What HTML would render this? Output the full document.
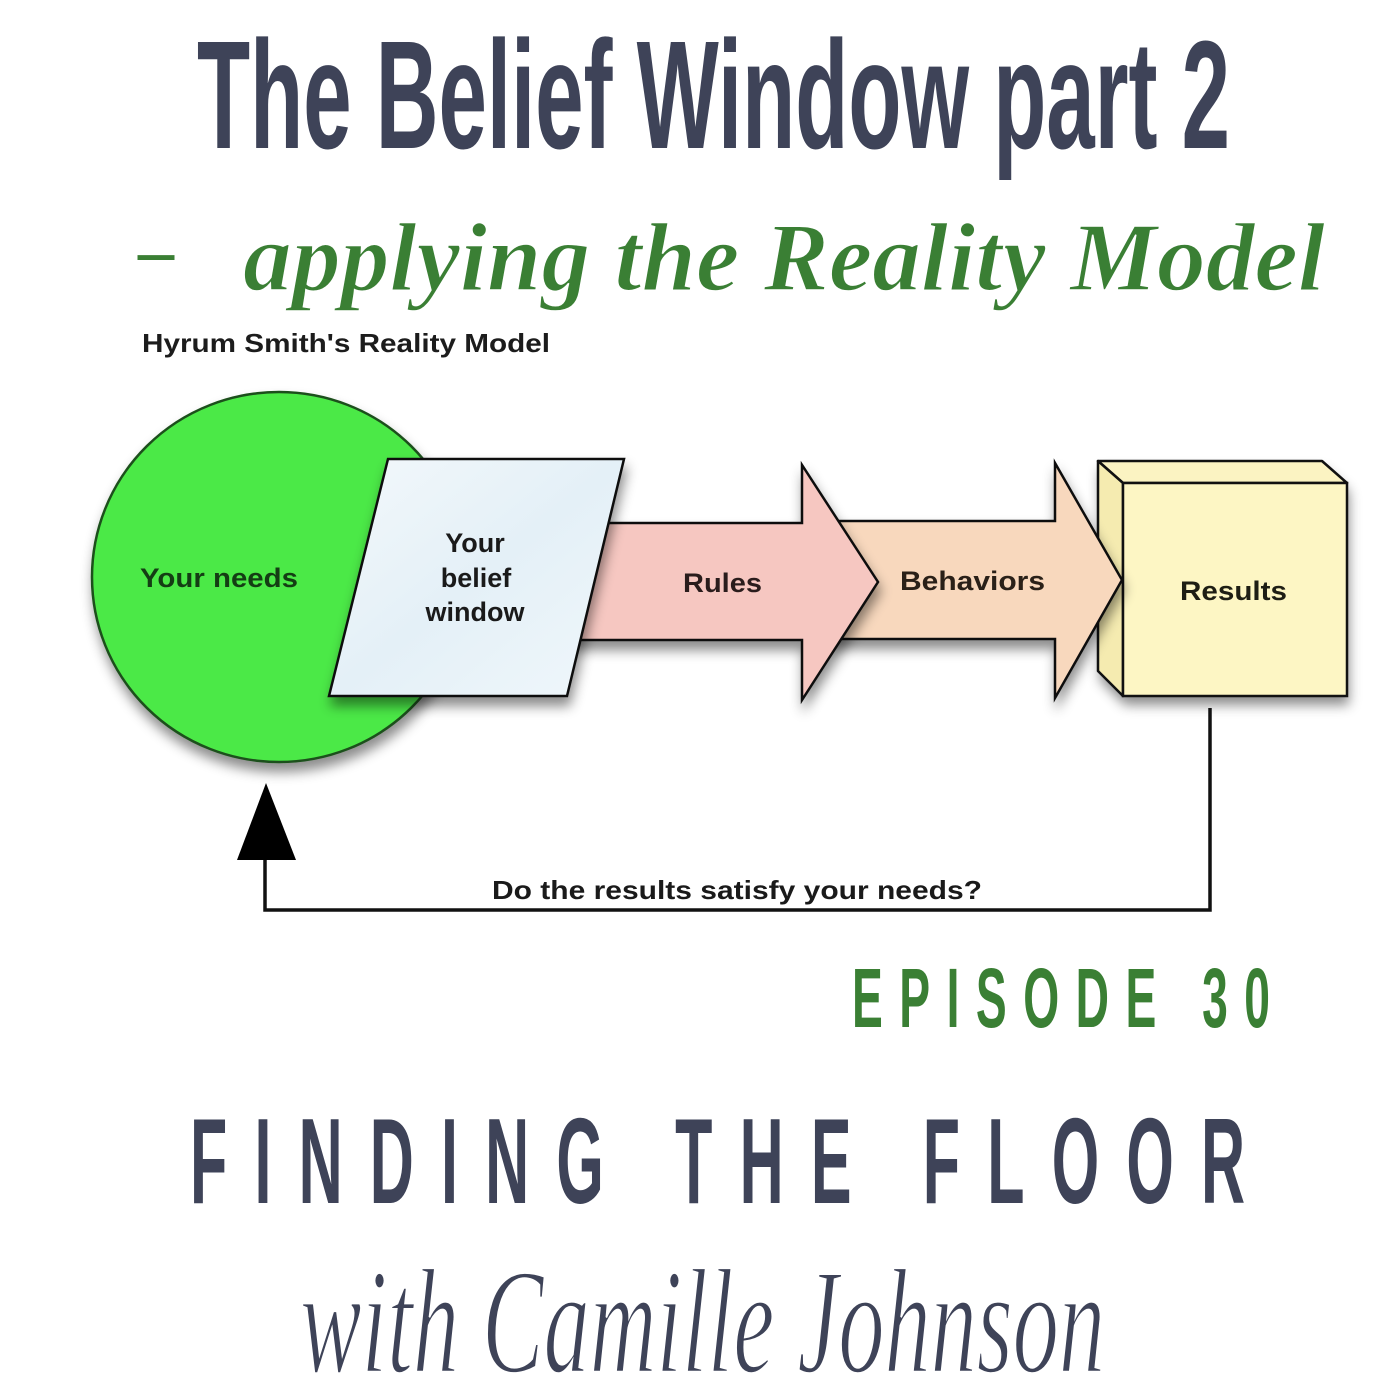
<!DOCTYPE html>
<html>
<head>
<meta charset="utf-8">
<style>
html,body{margin:0;padding:0;background:#fff;}
svg{display:block;}
</style>
</head>
<body>
<svg width="1400" height="1400" viewBox="0 0 1400 1400" xmlns="http://www.w3.org/2000/svg">
  <defs>
    <filter id="sh" x="-20%" y="-20%" width="140%" height="150%">
      <feDropShadow dx="2" dy="9" stdDeviation="6" flood-color="#000" flood-opacity="0.45"/>
    </filter>
    <linearGradient id="pg" x1="0" y1="0" x2="1" y2="1">
      <stop offset="0" stop-color="#f3f8fb"/>
      <stop offset="0.5" stop-color="#e4f0f7"/>
      <stop offset="1" stop-color="#f0f7fb"/>
    </linearGradient>
  </defs>
  <rect width="1400" height="1400" fill="#fff"/>

  <!-- Title -->
  <text x="197" y="148" font-family="'Liberation Sans Narrow','Liberation Sans',sans-serif" font-weight="bold" font-size="154" fill="#3e4358" textLength="1033" lengthAdjust="spacingAndGlyphs">The Belief Window part 2</text>

  <!-- Subtitle script -->
  <text x="138" y="274" font-family="'Liberation Serif',serif" font-weight="bold" font-size="70" fill="#3a7f34" textLength="36" lengthAdjust="spacingAndGlyphs">–</text>
  <text x="243" y="290" font-family="'Liberation Serif',serif" font-style="italic" font-weight="bold" font-size="98" fill="#3a7f34" stroke="#fff" stroke-width="1.5" textLength="1082" lengthAdjust="spacingAndGlyphs">applying the Reality Model</text>

  <!-- Diagram heading -->
  <text x="142" y="352" font-family="'Liberation Sans',sans-serif" font-weight="bold" font-size="26" fill="#1c1c1c" textLength="408" lengthAdjust="spacingAndGlyphs">Hyrum Smith's Reality Model</text>

  <!-- Results box -->
  <g filter="url(#sh)">
    <polygon points="1098,461 1322,461 1347,483 1347,696 1123,696 1098,671" fill="#fbf2bb"/>
  </g>
  <polygon points="1098,461 1322,461 1347,483 1123,483" fill="#fbf3c2" stroke="#111" stroke-width="2.5" stroke-linejoin="round"/>
  <polygon points="1098,461 1123,483 1123,696 1098,671" fill="#f5ebb0" stroke="#111" stroke-width="2.5" stroke-linejoin="round"/>
  <rect x="1123" y="483" width="224" height="213" fill="#fdf6c4" stroke="#111" stroke-width="2.5"/>

  <!-- Behaviors arrow -->
  <polygon points="830,521 1055,521 1055,463 1122,580 1055,698 1055,639 830,639" fill="#f8d8bd" stroke="#111" stroke-width="2.5" stroke-linejoin="miter" filter="url(#sh)"/>

  <!-- Rules arrow -->
  <polygon points="560,523 802,523 802,465 878,582 802,700 802,640 560,640" fill="#f6c7c1" stroke="#111" stroke-width="2.5" stroke-linejoin="miter" filter="url(#sh)"/>

  <!-- Needs circle -->
  <ellipse cx="279" cy="577" rx="187" ry="185" fill="#4ce946" stroke="#1b4f1a" stroke-width="2.5" filter="url(#sh)"/>

  <!-- Belief window parallelogram -->
  <polygon points="388,459 624,459 567,696 329,696" fill="url(#pg)" stroke="#111" stroke-width="2.5" stroke-linejoin="miter" filter="url(#sh)"/>

  <!-- Labels -->
  <g font-family="'Liberation Sans',sans-serif" font-weight="bold" font-size="27">
    <text x="140" y="587" fill="#143d14" textLength="158" lengthAdjust="spacingAndGlyphs">Your needs</text>
    <text x="475" y="552" fill="#1a1a1a" text-anchor="middle">Your</text>
    <text x="476" y="587" fill="#1a1a1a" text-anchor="middle">belief</text>
    <text x="475" y="621" fill="#1a1a1a" text-anchor="middle">window</text>
    <text x="683" y="592" fill="#2a1c1c" textLength="79" lengthAdjust="spacingAndGlyphs">Rules</text>
    <text x="900" y="590" fill="#2a2018" textLength="145" lengthAdjust="spacingAndGlyphs">Behaviors</text>
    <text x="1180" y="600" fill="#1e1e14" textLength="107" lengthAdjust="spacingAndGlyphs">Results</text>
  </g>

  <!-- Feedback loop -->
  <polyline points="1210,708 1210,910 265,910 265,858" fill="none" stroke="#111" stroke-width="3.5" stroke-linejoin="miter"/>
  <polygon points="237,860 296,860 266,783" fill="#000"/>
  <text x="492" y="899" font-family="'Liberation Sans',sans-serif" font-weight="bold" font-size="26" fill="#1a1a1a" textLength="490" lengthAdjust="spacingAndGlyphs">Do the results satisfy your needs?</text>

  <!-- Episode -->
  <g transform="translate(852,1027) scale(0.55,1)">
    <text x="0" y="0" font-family="'Liberation Sans Narrow','Liberation Sans',sans-serif" font-weight="bold" font-size="84" fill="#3a7f34" textLength="760" lengthAdjust="spacing">EPISODE 30</text>
  </g>

  <!-- Finding the floor -->
  <g transform="translate(190,1203) scale(0.5,1)">
    <text x="0" y="0" font-family="'Liberation Sans Narrow','Liberation Sans',sans-serif" font-weight="bold" font-size="122" fill="#3e4358" textLength="2110" lengthAdjust="spacing">FINDING THE FLOOR</text>
  </g>

  <!-- with Camille Johnson -->
  <text x="300" y="1372" font-family="'Liberation Serif',serif" font-style="italic" font-size="150" fill="#3e4358" stroke="#fff" stroke-width="2.5" textLength="805" lengthAdjust="spacingAndGlyphs">with Camille Johnson</text>
</svg>
</body>
</html>
